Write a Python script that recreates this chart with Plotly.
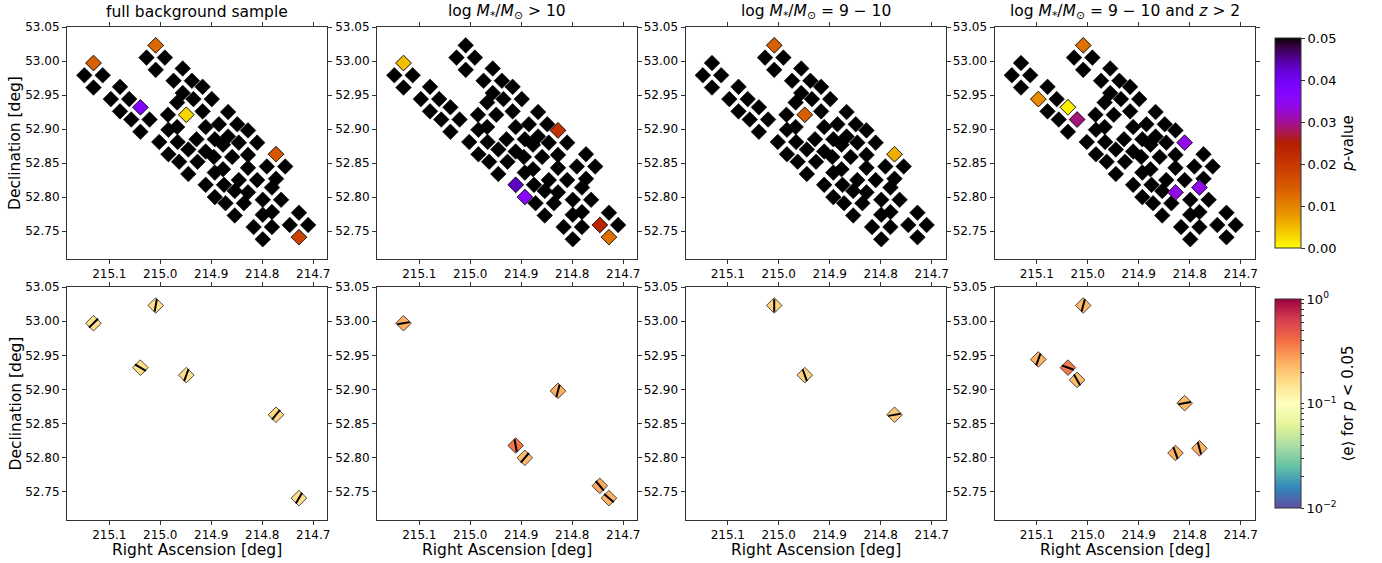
import math
import plotly.graph_objects as go

# ---------------- data ----------------
# background pointings (RA, Dec) in deg
bg_ra = [215.131, 215.149, 215.113, 215.131,
         215.009, 215.027, 214.991, 215.009,
         215.079, 215.097, 215.061, 215.079,
         215.039, 215.057, 215.021, 215.039,
         214.956, 214.974, 214.938, 214.956,
         214.917, 214.935, 214.899, 214.917,
         214.967, 214.985, 214.949, 214.967,
         214.867, 214.885, 214.849, 214.867,
         214.828, 214.846, 214.810, 214.828,
         214.984, 215.002, 214.966, 214.984,
         214.911, 214.929, 214.893, 214.911,
         214.945, 214.963, 214.927, 214.945,
         214.877, 214.895, 214.859, 214.877,
         214.773, 214.791, 214.755, 214.773,
         214.828, 214.846, 214.810, 214.828,
         214.893, 214.911, 214.875, 214.893,
         214.781, 214.799, 214.763, 214.781,
         214.854, 214.872, 214.836, 214.854,
         214.799, 214.817, 214.781, 214.799,
         214.728, 214.746, 214.710, 214.728]
bg_dec = [52.997, 52.979, 52.979, 52.961,
          53.023, 53.005, 53.005, 52.987,
          52.962, 52.944, 52.944, 52.926,
          52.932, 52.914, 52.914, 52.896,
          52.989, 52.971, 52.971, 52.953,
          52.962, 52.944, 52.944, 52.926,
          52.939, 52.921, 52.921, 52.903,
          52.925, 52.907, 52.907, 52.889,
          52.898, 52.880, 52.880, 52.862,
          52.899, 52.881, 52.881, 52.863,
          52.903, 52.885, 52.885, 52.867,
          52.870, 52.852, 52.852, 52.834,
          52.877, 52.859, 52.859, 52.841,
          52.863, 52.845, 52.845, 52.827,
          52.843, 52.825, 52.825, 52.807,
          52.836, 52.818, 52.818, 52.800,
          52.814, 52.796, 52.796, 52.778,
          52.809, 52.791, 52.791, 52.773,
          52.774, 52.756, 52.756, 52.738,
          52.777, 52.759, 52.759, 52.741]

panel_titles = ["full background sample",
                "log <i>M</i><sub>*</sub>/<i>M</i><sub>⊙</sub> > 10",
                "log <i>M</i><sub>*</sub>/<i>M</i><sub>⊙</sub> = 9 − 10",
                "log <i>M</i><sub>*</sub>/<i>M</i><sub>⊙</sub> = 9 − 10 and <i>z</i> > 2"]

# significant pointings per panel
p1_ra = [215.131, 215.009, 215.039, 214.949, 214.773, 214.728]
p1_dec = [52.997, 53.023, 52.932, 52.921, 52.863, 52.741]
p1_p = [0.014, 0.013, 0.037, 0.003, 0.015, 0.018]
p1_e = [0.16, 0.16, 0.16, 0.16, 0.17, 0.16]
p1_ang = [45, 10, -60, 20, 40, 30]

p2_ra = [215.131, 214.828, 214.911, 214.893, 214.746, 214.728]
p2_dec = [52.997, 52.898, 52.818, 52.800, 52.759, 52.741]
p2_p = [0.0045, 0.021, 0.043, 0.036, 0.024, 0.012]
p2_e = [0.25, 0.25, 0.38, 0.22, 0.26, 0.24]
p2_ang = [80, 15, -10, 40, -40, -50]

p3_ra = [215.009, 214.949, 214.773]
p3_dec = [53.023, 52.921, 52.863]
p3_p = [0.014, 0.014, 0.006]
p3_e = [0.18, 0.18, 0.20]
p3_ang = [0, -20, 80]

p4_ra = [215.009, 215.097, 215.039, 215.021, 214.810, 214.828, 214.781]
p4_dec = [53.023, 52.944, 52.932, 52.914, 52.880, 52.807, 52.814]
p4_p = [0.012, 0.009, 0.001, 0.029, 0.034, 0.034, 0.034]
p4_e = [0.23, 0.24, 0.36, 0.22, 0.23, 0.24, 0.24]
p4_ang = [15, 20, -70, -30, 80, -20, -15]

panels = [(p1_ra, p1_dec, p1_p, p1_e, p1_ang),
          (p2_ra, p2_dec, p2_p, p2_e, p2_ang),
          (p3_ra, p3_dec, p3_p, p3_e, p3_ang),
          (p4_ra, p4_dec, p4_p, p4_e, p4_ang)]

x_ticks = [215.1, 215.0, 214.9, 214.8, 214.7]
y_ticks = [52.75, 52.80, 52.85, 52.90, 52.95, 53.00, 53.05]

# ---------------- styling ----------------
W, H = 1382, 563
FONT = "DejaVu Sans"

# gnuplot_r colorscale
gnu = []
for i in range(41):
    t = i / 40
    x = 1 - t
    r = math.sqrt(x)
    g = x ** 3
    b = max(0.0, math.sin(2 * math.pi * x))
    gnu.append([t, "rgb(%d,%d,%d)" % (round(255 * r), round(255 * g), round(255 * b))])

spectral_r = [[0.0, "#5e4fa2"], [0.1, "#3288bd"], [0.2, "#66c2a5"], [0.3, "#abdda4"],
              [0.4, "#e6f598"], [0.5, "#ffffbf"], [0.6, "#fee08b"], [0.7, "#fdae61"],
              [0.8, "#f46d43"], [0.9, "#d53e4f"], [1.0, "#9e0142"]]

x_left = [67, 377, 685.5, 994.5]
pw = 260
top_y = (27, 259)
bot_y = (287, 520)

def px2x(p):
    return p / W

def px2y(p):
    return 1 - p / H

fig = go.Figure()

axis_common = dict(showline=True, linecolor="#333333", linewidth=1, mirror="ticks",
                   ticks="outside", ticklen=4, tickwidth=1, tickcolor="#333333",
                   showgrid=False, zeroline=False,
                   tickfont=dict(family=FONT, size=12, color="black"))

layout = {}
for row in range(2):
    for col in range(4):
        idx = row * 4 + col + 1
        xa = "xaxis" if idx == 1 else "xaxis%d" % idx
        ya = "yaxis" if idx == 1 else "yaxis%d" % idx
        ry = top_y if row == 0 else bot_y
        layout[xa] = dict(axis_common, domain=[px2x(x_left[col]), px2x(x_left[col] + pw)],
                          range=[215.183, 214.673], tickvals=x_ticks, tickformat=".1f",
                          anchor="y" if idx == 1 else "y%d" % idx)
        layout[ya] = dict(axis_common, domain=[px2y(ry[1]), px2y(ry[0])],
                          range=[52.709, 53.05], tickvals=y_ticks, tickformat=".2f",
                          anchor="x" if idx == 1 else "x%d" % idx)

MS = 12
for col in range(4):
    ra, dec, pv, ev, ang = panels[col]
    xt = "x" if col == 0 else "x%d" % (col + 1)
    yt = "y" if col == 0 else "y%d" % (col + 1)
    xb = "x%d" % (col + 5)
    yb = "y%d" % (col + 5)
    # top row: background + significant
    fig.add_trace(go.Scatter(x=bg_ra, y=bg_dec, mode="markers", xaxis=xt, yaxis=yt,
                             marker=dict(symbol="diamond", size=MS, color="black",
                                         line=dict(color="black", width=0.6)),
                             hoverinfo="skip"))
    fig.add_trace(go.Scatter(x=ra, y=dec, mode="markers", xaxis=xt, yaxis=yt,
                             marker=dict(symbol="diamond", size=MS, color=pv,
                                         coloraxis="coloraxis",
                                         line=dict(color="#222222", width=0.8))))
    # bottom row
    fig.add_trace(go.Scatter(x=ra, y=dec, mode="markers", xaxis=xb, yaxis=yb,
                             marker=dict(symbol="diamond", size=MS,
                                         color=[math.log10(v) for v in ev],
                                         coloraxis="coloraxis2",
                                         line=dict(color="#222222", width=0.8))))
    fig.add_trace(go.Scatter(x=ra, y=dec, mode="markers", xaxis=xb, yaxis=yb,
                             marker=dict(symbol="line-ns", size=9, angle=ang,
                                         color="black",
                                         line=dict(color="black", width=2)),
                             hoverinfo="skip"))

minor_vals = []
minor_txt = []
for dec_ in (-2, -1):
    for m in range(1, 10):
        v = dec_ + math.log10(m)
        minor_vals.append(v)
        minor_txt.append("10<sup>%s</sup>" % ("−2" if dec_ == -2 else "−1") if m == 1 else "")
minor_vals.append(0)
minor_txt.append("10<sup>0</sup>")

annotations = []
for col in range(4):
    annotations.append(dict(text=panel_titles[col], x=px2x(x_left[col] + pw / 2), y=px2y(12),
                            xref="paper", yref="paper", showarrow=False,
                            font=dict(family=FONT, size=15.5, color="black"),
                            xanchor="center", yanchor="middle"))
    annotations.append(dict(text="Right Ascension [deg]", x=px2x(x_left[col] + pw / 2), y=px2y(550),
                            xref="paper", yref="paper", showarrow=False,
                            font=dict(family=FONT, size=15.5, color="black"),
                            xanchor="center", yanchor="middle"))
for ry in (top_y, bot_y):
    annotations.append(dict(text="Declination [deg]", x=px2x(15), y=px2y((ry[0] + ry[1]) / 2),
                            xref="paper", yref="paper", showarrow=False, textangle=-90,
                            font=dict(family=FONT, size=15.5, color="black"),
                            xanchor="center", yanchor="middle"))

fig.update_layout(
    width=W, height=H, margin=dict(l=0, r=0, t=0, b=0, autoexpand=False),
    plot_bgcolor="white", paper_bgcolor="white", showlegend=False,
    annotations=annotations,
    coloraxis=dict(colorscale=gnu, cmin=0, cmax=0.05,
                   colorbar=dict(x=px2x(1275), xanchor="left", thickness=26, xpad=0, ypad=0,
                                 len=210 / H, lenmode="fraction", y=px2y(143), yanchor="middle",
                                 outlinecolor="#333333", outlinewidth=1,
                                 tickvals=[0, 0.01, 0.02, 0.03, 0.04, 0.05],
                                 ticktext=["0.00", "0.01", "0.02", "0.03", "0.04", "0.05"],
                                 ticks="outside", ticklen=4, tickcolor="#333333",
                                 tickfont=dict(family=FONT, size=13, color="black"),
                                 title=dict(text="<i>p</i>-value", side="right",
                                            font=dict(family=FONT, size=15, color="black")))),
    coloraxis2=dict(colorscale=spectral_r, cmin=-2, cmax=0,
                    colorbar=dict(x=px2x(1275), xanchor="left", thickness=26, xpad=0, ypad=0,
                                  len=209 / H, lenmode="fraction", y=px2y(403.5), yanchor="middle",
                                  outlinecolor="#333333", outlinewidth=1,
                                  tickvals=minor_vals, ticktext=minor_txt,
                                  ticks="outside", ticklen=3, tickcolor="#333333",
                                  tickfont=dict(family=FONT, size=13, color="black"),
                                  title=dict(text="⟨e⟩ for <i>p</i> < 0.05", side="right",
                                             font=dict(family=FONT, size=15, color="black")))),
    **layout,
)

fig.write_html("out.html", config={"displayModeBar": False},
               post_script="document.body.style.margin='0';document.body.style.overflow='hidden';")
